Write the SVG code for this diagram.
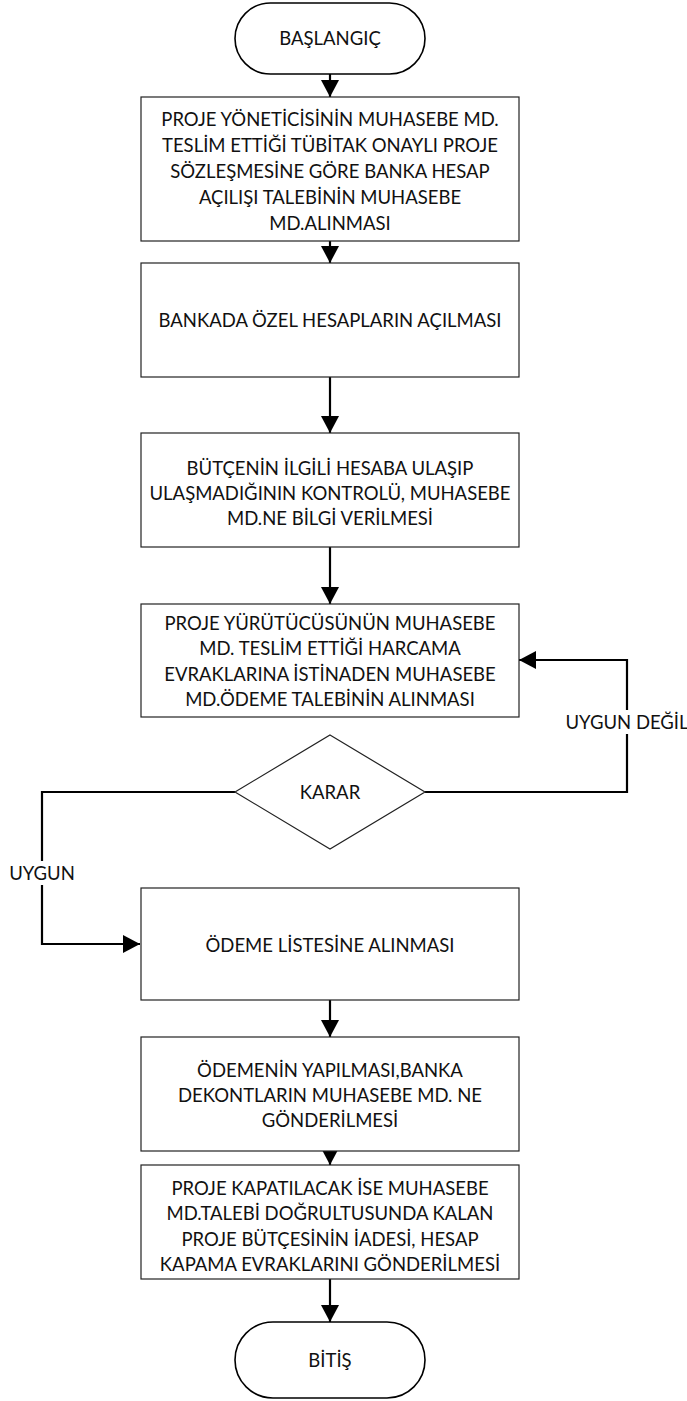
<svg xmlns="http://www.w3.org/2000/svg" width="687" height="1401" viewBox="0 0 687 1401">
<defs>
<style>
.box{fill:#fff;stroke:#222;stroke-width:1.2}
.term{fill:#fff;stroke:#000;stroke-width:1.6}
.t{font-family:Lato,"Open Sans","Liberation Sans",sans-serif;font-size:18.5px;fill:#111;text-anchor:middle}
.c{fill:none;stroke:#000;stroke-width:2.2}
.lbl{fill:#fff;stroke:none}
</style>
<marker id="ah" markerUnits="userSpaceOnUse" markerWidth="18" markerHeight="18" viewBox="0 0 18 18" refX="17" refY="9" orient="auto">
<path d="M0,0 L17,9 L0,18 Z" fill="#000"/>
</marker>
</defs>
<rect width="687" height="1401" fill="#fff"/>
<g id="connectors">
<line class="c" x1="330" y1="74" x2="330" y2="97" marker-end="url(#ah)"/>
<line class="c" x1="330" y1="241" x2="330" y2="263" marker-end="url(#ah)"/>
<line class="c" x1="330" y1="377" x2="330" y2="433" marker-end="url(#ah)"/>
<line class="c" x1="330" y1="547" x2="330" y2="604" marker-end="url(#ah)"/>
<polyline class="c" points="235,792 42,792 42,944 140,944" marker-end="url(#ah)"/>
<polyline class="c" points="425,792 627,792 627,660 519,660" marker-end="url(#ah)"/>
<line class="c" x1="330" y1="1000" x2="330" y2="1037" marker-end="url(#ah)"/>
<line class="c" x1="330" y1="1151" x2="330" y2="1165" marker-end="url(#ah)"/>
<line class="c" x1="330" y1="1279" x2="330" y2="1322" marker-end="url(#ah)"/>
<rect class="lbl" x="8" y="861" width="68" height="24"/>
<text class="t" x="42" y="880">UYGUN</text>
<rect class="lbl" x="566" y="710" width="121" height="24"/>
<text class="t" x="627" y="729">UYGUN DEĞİL</text>
</g>
<g id="start">
<rect class="term" x="235" y="3" width="190" height="71" rx="35.5" ry="35.5"/>
<text class="t" x="330" y="45">BAŞLANGIÇ</text>
</g>
<g id="n1">
<rect class="box" x="141" y="97" width="378" height="144"/>
<text class="t" x="330" y="126">PROJE YÖNETİCİSİNİN MUHASEBE MD.</text>
<text class="t" x="330" y="152">TESLİM ETTİĞİ TÜBİTAK ONAYLI PROJE</text>
<text class="t" x="330" y="178">SÖZLEŞMESİNE GÖRE BANKA HESAP</text>
<text class="t" x="330" y="204">AÇILIŞI TALEBİNİN MUHASEBE</text>
<text class="t" x="330" y="230">MD.ALINMASI</text>
</g>
<g id="n2">
<rect class="box" x="141" y="263" width="378" height="114"/>
<text class="t" x="330" y="327">BANKADA ÖZEL HESAPLARIN AÇILMASI</text>
</g>
<g id="n3">
<rect class="box" x="141" y="433" width="378" height="114"/>
<text class="t" x="330" y="475">BÜTÇENİN  İLGİLİ HESABA ULAŞIP</text>
<text class="t" x="330" y="500">ULAŞMADIĞININ KONTROLÜ, MUHASEBE</text>
<text class="t" x="330" y="525">MD.NE BİLGİ VERİLMESİ</text>
</g>
<g id="n4">
<rect class="box" x="141" y="604" width="378" height="113"/>
<text class="t" x="330" y="630">PROJE YÜRÜTÜCÜSÜNÜN MUHASEBE</text>
<text class="t" x="330" y="655">MD. TESLİM ETTİĞİ HARCAMA</text>
<text class="t" x="330" y="681">EVRAKLARINA İSTİNADEN MUHASEBE</text>
<text class="t" x="330" y="706">MD.ÖDEME TALEBİNİN ALINMASI</text>
</g>
<g id="decision">
<polygon class="box" points="330,735 425,792 330,849 235,792"/>
<text class="t" x="330" y="799">KARAR</text>
</g>
<g id="n5">
<rect class="box" x="141" y="888" width="378" height="112"/>
<text class="t" x="330" y="952">ÖDEME LİSTESİNE ALINMASI</text>
</g>
<g id="n6">
<rect class="box" x="141" y="1037" width="378" height="114"/>
<text class="t" x="330" y="1077">ÖDEMENİN YAPILMASI,BANKA</text>
<text class="t" x="330" y="1102">DEKONTLARIN MUHASEBE MD. NE</text>
<text class="t" x="330" y="1127">GÖNDERİLMESİ</text>
</g>
<g id="n7">
<rect class="box" x="141" y="1165" width="378" height="114"/>
<text class="t" x="330" y="1195">PROJE KAPATILACAK İSE MUHASEBE</text>
<text class="t" x="330" y="1220">MD.TALEBİ DOĞRULTUSUNDA KALAN</text>
<text class="t" x="330" y="1246">PROJE BÜTÇESİNİN İADESİ, HESAP</text>
<text class="t" x="330" y="1271">KAPAMA EVRAKLARINI GÖNDERİLMESİ</text>
</g>
<g id="end">
<rect class="term" x="235" y="1322" width="190" height="76" rx="38" ry="38"/>
<text class="t" x="330" y="1367">BİTİŞ</text>
</g>
</svg>
